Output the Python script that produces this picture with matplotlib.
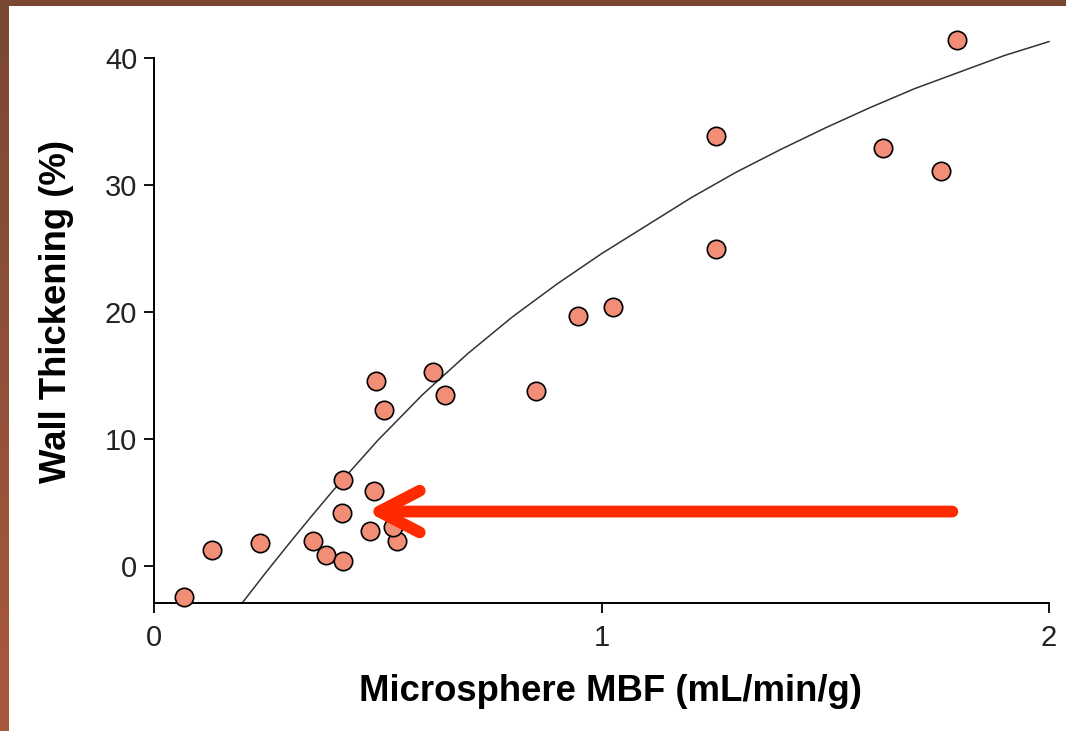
import matplotlib
matplotlib.use("Agg")
import matplotlib.pyplot as plt
import numpy as np

plt.rcParams['font.family'] = ['Liberation Sans', 'DejaVu Sans']

# measured points (microsphere MBF vs wall thickening)
mbf = [0.067, 0.130, 0.237, 0.355, 0.384, 0.422, 0.420, 0.422, 0.492, 0.483,
       0.543, 0.534, 0.496, 0.514, 0.623, 0.650, 0.854, 0.947, 1.026, 1.256,
       1.256, 1.629, 1.759, 1.794]
wt = [-2.4, 1.3, 1.8, 2.0, 0.9, 0.4, 4.2, 6.8, 5.9, 2.8,
      2.0, 3.1, 14.6, 12.3, 15.3, 13.5, 13.8, 19.7, 20.4, 33.9,
      25.0, 32.9, 31.1, 41.4]

# fitted curve
fit_x = [0.197, 0.25, 0.3, 0.35, 0.4, 0.5, 0.6, 0.7, 0.8, 0.9, 1.0,
         1.1, 1.2, 1.3, 1.4, 1.5, 1.6, 1.7, 1.8, 1.9, 2.0]
fit_y = [-2.9, -0.5, 1.7, 3.85, 5.95, 9.9, 13.5, 16.7, 19.6, 22.2, 24.6,
         26.8, 29.0, 31.0, 32.8, 34.5, 36.1, 37.6, 38.9, 40.2, 41.3]

# red arrow (tail -> tip)
arrow_tail = (1.784, 4.3)
arrow_tip = (0.475, 4.3)

xticks = [0, 1, 2]
yticks = [0, 10, 20, 30, 40]

fig = plt.figure(figsize=(10.66, 7.31), dpi=100)
ax = fig.add_axes([154/1066, 1 - 603/731, 895/1066, (603 - 20)/731])

ax.plot(fit_x, fit_y, color='#333333', lw=1.1, clip_on=False, zorder=2)
ax.scatter(mbf, wt, s=175, color='#f28e78', edgecolor='black', linewidth=1.2,
           clip_on=False, zorder=3)

ax.annotate('', xy=arrow_tip, xytext=arrow_tail,
            arrowprops=dict(arrowstyle='->,head_length=2.9,head_width=1.5',
                            color='#ff2a00', lw=8.5, shrinkA=0, shrinkB=0,
                            capstyle='round', joinstyle='round'),
            zorder=4)

ax.set_xlim(0, 2)
ax.set_ylim(-2.9, 43)
ax.spines['top'].set_visible(False)
ax.spines['right'].set_visible(False)
ax.spines['left'].set_bounds(-2.9, 40)
for s in ['left', 'bottom']:
    ax.spines[s].set_linewidth(1.4)
ax.set_xticks(xticks)
ax.set_yticks(yticks)
ax.tick_params(direction='out', length=7, width=1.3, labelsize=21, pad=5,
               labelcolor='#222222')
ax.tick_params(axis='x', pad=8)

ax.set_xlabel('Microsphere MBF (mL/min/g)', fontsize=26.3, fontweight='bold', labelpad=16)
ax.set_ylabel('Wall Thickening (%)', fontsize=26.3, fontweight='bold', labelpad=22)
ax.xaxis.label.set_x(0.51)

# brown frame edges of the slide
top = fig.add_axes([0, 1 - 6/731, 1, 6/731])
top.set_facecolor('#7a4733')
top.set_xticks([]); top.set_yticks([])
for s in top.spines.values():
    s.set_visible(False)
left = fig.add_axes([0, 0, 9/1066, 1])
grad = np.linspace(0, 1, 256).reshape(-1, 1)
cmap = matplotlib.colors.LinearSegmentedColormap.from_list('b', ['#7a4733', '#a95a3e'])
left.imshow(grad, aspect='auto', cmap=cmap)
left.axis('off')

fig.savefig('out.png', dpi=100)
